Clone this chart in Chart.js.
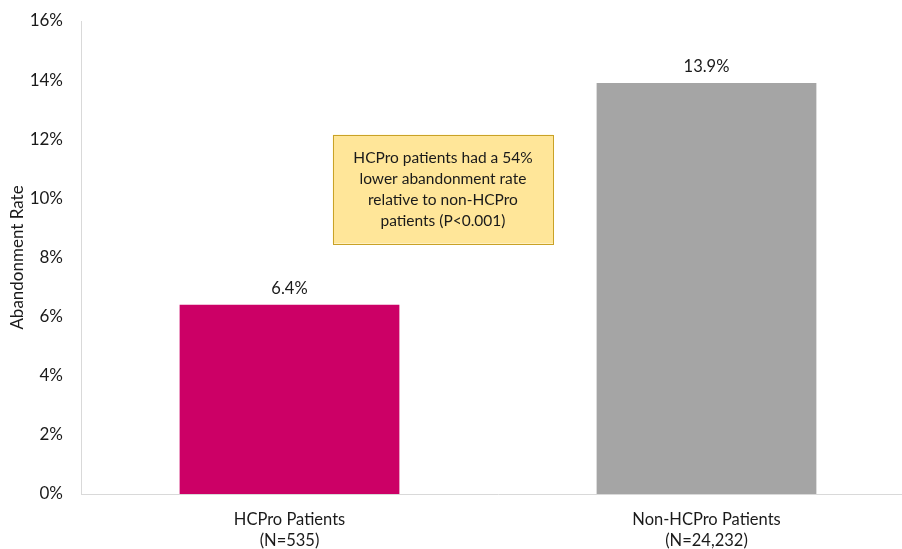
<!DOCTYPE html>
<html>
<head>
<meta charset="utf-8">
<script src="https://cdn.jsdelivr.net/npm/chart.js@4"></script>
<style>
  html, body { margin: 0; padding: 0; background: #fff; overflow: hidden; }
  #wrap { width: 920px; height: 549px; position: relative; }
</style>
</head>
<body>
<div id="wrap"><canvas id="chart"></canvas></div>
<script>
// Abandonment rate by patient group
const categories = [["HCPro Patients", "(N=535)"], ["Non-HCPro Patients", "(N=24,232)"]];
const rates = [6.4, 13.9];
const barColors = ["#CC0066", "#A5A5A5"];
const yTicks = [0, 2, 4, 6, 8, 10, 12, 14, 16];
const noteLines = ["HCPro patients had a 54%", "lower abandonment rate", "relative to non-HCPro", "patients (P<0.001)"];

const FONT = "Lato, 'Open Sans', sans-serif";
const TEXT = "#1a1a1a";

// Value labels above each bar
const valueLabels = {
  id: "valueLabels",
  afterDatasetsDraw(chart) {
    const ctx = chart.ctx;
    const meta = chart.getDatasetMeta(0);
    ctx.save();
    ctx.font = "16.5px " + FONT;
    ctx.fillStyle = TEXT;
    ctx.textAlign = "center";
    ctx.textBaseline = "middle";
    meta.data.forEach((bar, i) => {
      ctx.fillText(rates[i].toFixed(1) + "%", bar.x, bar.y - 16);
    });
    ctx.restore();
  }
};

// Callout box between the bars, placed in axis units
const callout = {
  id: "callout",
  afterDraw(chart) {
    const { ctx, chartArea, scales } = chart;
    const w = chartArea.right - chartArea.left;
    const x0 = chartArea.left + w * 0.302;
    const x1 = chartArea.left + w * 0.566;
    const y0 = scales.y.getPixelForValue(12.15);
    const y1 = scales.y.getPixelForValue(8.47);
    ctx.save();
    ctx.fillStyle = "#FFE699";
    ctx.strokeStyle = "#C9A227";
    ctx.lineWidth = 1;
    ctx.fillRect(x0, y0, x1 - x0, y1 - y0);
    ctx.strokeRect(Math.round(x0) + 0.5, Math.round(y0) + 0.5, Math.round(x1 - x0), Math.round(y1 - y0));
    ctx.font = "15.5px " + FONT;
    ctx.fillStyle = TEXT;
    ctx.textAlign = "center";
    ctx.textBaseline = "middle";
    const cx = (x0 + x1) / 2;
    const lh = 21;
    const cy = (y0 + y1) / 2 - lh * (noteLines.length - 1) / 2;
    noteLines.forEach((t, i) => ctx.fillText(t, cx, cy + i * lh));
    ctx.restore();
  }
};

new Chart(document.getElementById("chart"), {
  type: "bar",
  data: {
    labels: categories,
    datasets: [{
      data: rates,
      backgroundColor: barColors,
      categoryPercentage: 1,
      barPercentage: 0.527
    }]
  },
  options: {
    responsive: true,
    maintainAspectRatio: false,
    animation: false,
    layout: { padding: { top: 21, right: 5, bottom: 0, left: 0 } },
    plugins: { legend: { display: false }, tooltip: { enabled: false } },
    scales: {
      x: {
        grid: { display: false, drawTicks: false },
        border: { color: "#D9D9D9", width: 1 },
        ticks: { color: TEXT, font: { family: FONT, size: 16.5, lineHeight: 1.22 }, padding: 16, maxRotation: 0 },
        afterFit(s) { s.height = 55; s.paddingLeft = 0; s.paddingRight = 0; }
      },
      y: {
        min: 0,
        max: 16,
        afterBuildTicks(s) { s.ticks = yTicks.map(v => ({ value: v })); },
        grid: { display: false, drawTicks: false },
        border: { color: "#D9D9D9", width: 1 },
        ticks: { color: TEXT, font: { family: FONT, size: 17 }, padding: 18, callback: v => v + "%" },
        title: { display: true, text: "Abandonment Rate", color: TEXT, font: { family: FONT, size: 17 }, padding: { top: 7, bottom: 0 } },
        afterFit(s) { s.width = 81; s.paddingTop = 0; s.paddingBottom = 0; }
      }
    }
  },
  plugins: [valueLabels, callout]
});
</script>
</body>
</html>
